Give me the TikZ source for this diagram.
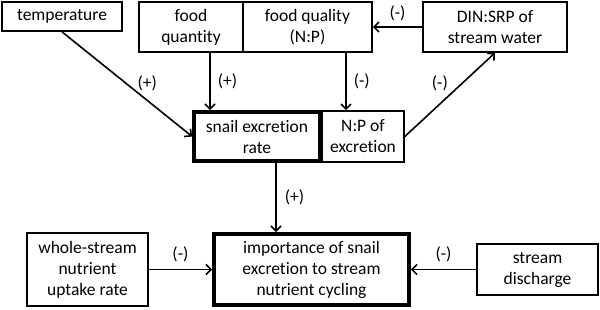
\documentclass[tikz,border=0pt]{standalone}
\usepackage{fontspec}
\setmainfont[RawFeature={-liga;-clig;-dlig}]{Carlito}
\usetikzlibrary{arrows.meta,calc}
\begin{document}
\begin{tikzpicture}[x=1pt,y=-1pt,
  every node/.style={font=\fontsize{17.5}{21}\selectfont},
  box/.style={draw,line width=1.7pt,align=center,inner sep=0pt,minimum width=#1},
  thickbox/.style={box=#1,line width=3.8pt},
  arr/.style={line width=1.6pt,-{Straight Barb[length=5pt,width=10pt,line width=1.6pt]}},
  lbl/.style={inner sep=1pt}]
\useasboundingbox (0,0) rectangle (600,310);
\node[box=120,minimum height=29] (temp) at (62,16.5) {temperature};
\node[box=104,minimum height=50] (fquan) at (191,27) {food\\quantity};
\node[box=129,minimum height=50] (fqual) at (307.5,27) {food quality\\(N:P)};
\node[box=144,minimum height=50] (din) at (495,27) {DIN:SRP of\\stream water};
\node[thickbox=126,minimum height=49] (snail) at (257,136.5) {snail excretion\\rate};
\node[box=82,minimum height=51] (np) at (363,136.5) {N:P of\\excretion};
\node[thickbox=195,minimum height=71] (imp) at (311.5,269.5) {importance of snail\\excretion to stream\\nutrient cycling};
\node[box=121,minimum height=73] (whole) at (87.5,269.5) {whole-stream\\nutrient\\uptake rate};
\node[box=121,minimum height=51] (disch) at (537.5,269.5) {stream\\discharge};

\draw[arr] (temp.south) -- (snail.west) node[lbl,pos=0.49,right=10pt] {(+)};
\draw[arr] ([xshift=19pt]fquan.south) -- ([xshift=19pt]fquan.south |- snail.north) node[lbl,midway,right=6pt] {(+)};
\draw[arr] ([xshift=38.5pt]fqual.south) -- ([xshift=38.5pt]fqual.south |- np.north) node[lbl,midway,right=6pt] {(-)};
\draw[arr] (din.west) -- (fqual.east) node[lbl,midway,above=4pt] {(-)};
\draw[arr] (np.east) -- (din.south) node[lbl,pos=0.63,left=12pt] {(-)};
\draw[arr] ([xshift=19pt]snail.south) -- ([xshift=19pt]snail.south |- imp.north) node[lbl,midway,right=7pt] {(+)};
\draw[arr] (whole.east) -- (imp.west) node[lbl,midway,above=6pt] {(-)};
\draw[arr] (disch.west) -- (imp.east) node[lbl,midway,above=6pt] {(-)};
\end{tikzpicture}
\end{document}
